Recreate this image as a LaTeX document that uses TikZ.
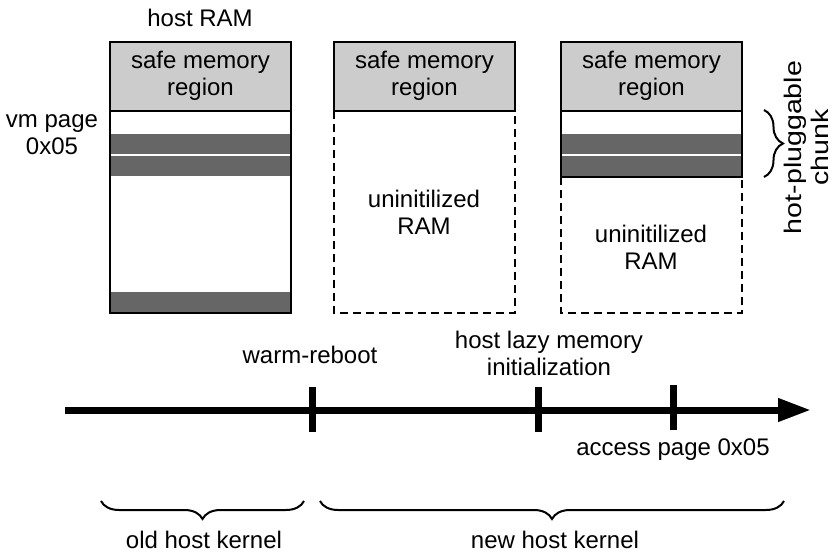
\documentclass[tikz,border=0pt]{standalone}
\usepackage{fontspec}
\setmainfont{Liberation Sans}
\usetikzlibrary{arrows.meta,decorations.pathreplacing}
\definecolor{safegray}{HTML}{CCCCCC}
\definecolor{pagegray}{HTML}{666666}
\begin{document}
\begin{tikzpicture}[x=0.75pt,y=-0.75pt,
  lbl/.style={font=\fontsize{18}{20.25}\selectfont, align=center, inner sep=0pt},
  frame/.style={line width=1.5pt},
  dashedframe/.style={line width=1.5pt, dash pattern=on 6pt off 3.75pt},
  tickmark/.style={line width=5.25pt},
  kbrace/.style={decorate, decoration={brace, mirror, amplitude=13.5pt}, line width=1.5pt},
  sidebrace/.style={decorate, decoration={brace, amplitude=14.25pt}, line width=1.5pt},
]
\useasboundingbox (0,0) rectangle (833,554);

% first host RAM column: old kernel, pages spread over memory
\fill[safegray] (110,42) rectangle (291,111);
\fill[pagegray] (110,134) rectangle (291,154);
\fill[pagegray] (110,156) rectangle (291,176);
\fill[pagegray] (110,292) rectangle (291,313);
\draw[frame] (110,42) rectangle (291,313);
\draw[frame] (110,111) -- (291,111);

% second column: after warm reboot, only the safe region is initialised
\fill[safegray] (334,42) rectangle (515,111);
\draw[frame] (334,42) rectangle (515,111);
\draw[dashedframe] (334,111) -- (334,313) -- (515,313) -- (515,111);

% third column: one hot-pluggable chunk brought up lazily
\fill[safegray] (561,42) rectangle (742,111);
\fill[pagegray] (561,134) rectangle (742,154);
\fill[pagegray] (561,156) rectangle (742,177);
\draw[frame] (561,42) rectangle (742,177);
\draw[frame] (561,111) -- (742,111);
\draw[dashedframe] (561,177) -- (561,313) -- (742,313) -- (742,177);

% column labels
\node[lbl, anchor=base] (hostram) at (200,26) {host RAM};
\node[lbl] (safe1) at (200.5,76) {safe memory\\region};
\node[lbl] (safe2) at (424.5,76) {safe memory\\region};
\node[lbl] (safe3) at (651.5,76) {safe memory\\region};
\node[lbl] (vmpage) at (52,135) {vm page\\0x05};
\node[lbl] (uninit2) at (424,212) {uninitilized\\RAM};
\node[lbl] (uninit3) at (651,247) {uninitilized\\RAM};

% hot-pluggable chunk marker (label stretched along its reading direction)
\coordinate (chunktop) at (764,110);
\coordinate (chunkbot) at (764,177);
\draw[sidebrace] (chunktop) -- (chunkbot);
\node[lbl, rotate=90, xscale=1.19] (chunk) at (806,147.5) {hot-pluggable\\chunk};

% time line
\coordinate (tstart) at (65,410);
\coordinate (tend) at (811,410);
\draw[line width=5.25pt, -{Triangle[length=24.75pt,width=16.5pt]}] (tstart) -- (tend);

\coordinate (r1) at (312,387); \coordinate (r2) at (312,432);
\coordinate (l1) at (538,387); \coordinate (l2) at (538,432);
\coordinate (a1) at (673,385); \coordinate (a2) at (673,430);
\draw[tickmark] (r1) -- (r2);
\draw[tickmark] (l1) -- (l2);
\draw[tickmark] (a1) -- (a2);

\node[lbl, anchor=base] (reboot) at (310,363) {warm-reboot};
\node[lbl] (lazy) at (549,353) {host lazy memory\\initialization};
\node[lbl, anchor=base] (access) at (673,455) {access page 0x05};

% kernel spans
\coordinate (ob0) at (101,501); \coordinate (ob1) at (304,501);
\coordinate (nb0) at (320,501); \coordinate (nb1) at (784,501);
\draw[kbrace] (ob0) -- (ob1);
\draw[kbrace] (nb0) -- (nb1);
\node[lbl, anchor=base] (oldk) at (204,548) {old host kernel};
\node[lbl, anchor=base] (newk) at (555,548) {new host kernel};
\end{tikzpicture}
\end{document}
